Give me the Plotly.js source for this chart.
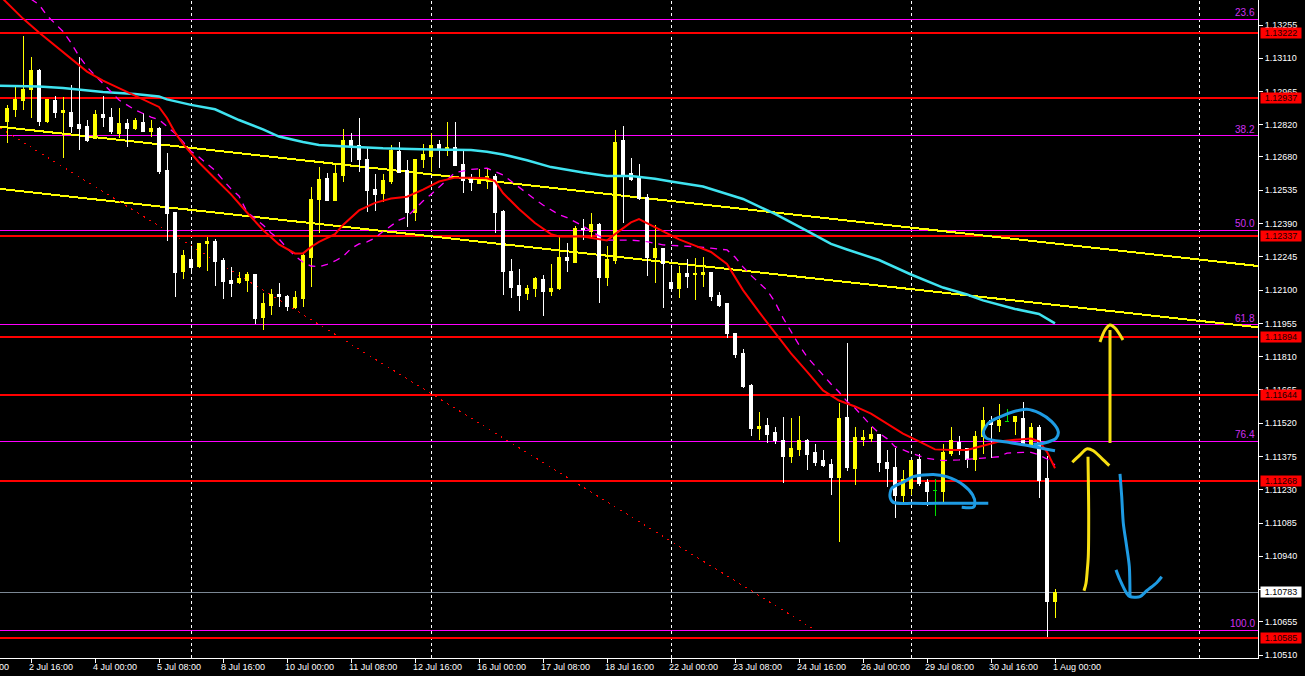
<!DOCTYPE html>
<html>
<head>
<meta charset="utf-8">
<script src="https://cdn.plot.ly/plotly-3.0.1.min.js"></script>
<style>
html,body{margin:0;padding:0;background:#000;overflow:hidden}
#chart{width:1305px;height:676px}
#chart .shapelayer path{shape-rendering:crispEdges}
#chart .boxlayer path{shape-rendering:crispEdges}
</style>
</head>
<body>
<div id="chart"></div>
<script>
// ---------- EURUSD H4 candles ----------
const openP = [1.12834,1.12889,1.12926,1.12972,1.13059,1.12834,1.12924,1.12873,1.12876,1.12820,
1.12811,1.12761,1.12863,1.12854,1.12782,1.12824,1.12802,1.12830,1.12790,1.12804,
1.12621,1.12438,1.12181,1.12232,1.12201,1.12304,1.12311,1.12227,1.12144,1.12134,
1.12144,1.12170,1.11980,1.12035,1.12079,1.12072,1.12024,1.12063,1.12242,1.12493,
1.12588,1.12492,1.12601,1.12754,1.12732,1.12671,1.12540,1.12521,1.12575,1.12706,
1.12623,1.12440,1.12667,1.12680,1.12736,1.12710,1.12723,1.12649,1.12588,1.12563,
1.12579,1.12597,1.12444,1.12183,1.12118,1.12087,1.12105,1.12148,1.12096,1.12105,
1.12240,1.12222,1.12370,1.12357,1.12388,1.12157,1.12231,1.12754,1.12606,1.12593,
1.12505,1.12244,1.12283,1.12131,1.12105,1.12174,1.12166,1.12166,1.12176,1.12075,
1.12040,1.11912,1.11822,1.11684,1.11495,1.11508,1.11478,1.11443,1.11375,1.11404,
1.11443,1.11391,1.11356,1.11338,1.11282,1.11543,1.11321,1.11447,1.11452,1.11469,
1.11351,1.11325,1.11203,1.11234,1.11360,1.11260,1.11225,1.11221,1.11386,1.11438,
1.11408,1.11360,1.11460,1.11534,1.11508,1.11529,1.11526,1.11541,1.11429,1.11503,
1.11280,1.10742];
const highP = [1.12907,1.12990,1.13207,1.13117,1.13064,1.12934,1.12946,1.12940,1.12994,1.13117,
1.12841,1.12885,1.12946,1.12895,1.12894,1.12844,1.12849,1.12870,1.12841,1.12809,
1.12696,1.12438,1.12275,1.12290,1.12307,1.12333,1.12323,1.12242,1.12199,1.12181,
1.12178,1.12170,1.12086,1.12105,1.12130,1.12077,1.12096,1.12261,1.12548,1.12635,
1.12611,1.12645,1.12802,1.12786,1.12852,1.12720,1.12606,1.12606,1.12732,1.12745,
1.12667,1.12671,1.12736,1.12783,1.12754,1.12831,1.12831,1.12706,1.12606,1.12627,
1.12627,1.12606,1.12449,1.12235,1.12192,1.12122,1.12155,1.12166,1.12213,1.12331,
1.12305,1.12379,1.12410,1.12436,1.12392,1.12292,1.12797,1.12815,1.12675,1.12649,
1.12518,1.12383,1.12283,1.12205,1.12205,1.12235,1.12240,1.12246,1.12176,1.12093,
1.12040,1.11915,1.11844,1.11690,1.11569,1.11543,1.11502,1.11547,1.11543,1.11552,
1.11452,1.11430,1.11404,1.11364,1.11608,1.11870,1.11504,1.11491,1.11504,1.11473,
1.11404,1.11412,1.11317,1.11360,1.11385,1.11277,1.11277,1.11430,1.11504,1.11465,
1.11408,1.11485,1.11591,1.11552,1.11603,1.11580,1.11551,1.11612,1.11521,1.11512,
1.11377,1.10799];
const lowP = [1.12743,1.12856,1.12885,1.12849,1.12815,1.12827,1.12849,1.12677,1.12783,1.12711,
1.12745,1.12759,1.12812,1.12779,1.12761,1.12725,1.12798,1.12789,1.12766,1.12605,
1.12316,1.12069,1.12150,1.12173,1.12195,1.12185,1.12120,1.12060,1.12072,1.12125,
1.12091,1.11951,1.11924,1.11990,1.12025,1.12011,1.12019,1.12025,1.12112,1.12348,
1.12490,1.12490,1.12572,1.12659,1.12616,1.12441,1.12446,1.12485,1.12561,1.12609,
1.12376,1.12402,1.12630,1.12616,1.12630,1.12684,1.12645,1.12524,1.12533,1.12562,
1.12540,1.12350,1.12078,1.12065,1.12009,1.12057,1.12071,1.11987,1.12074,1.12100,
1.12179,1.12222,1.12318,1.12327,1.12044,1.12118,1.12213,1.12392,1.12575,1.12492,
1.12161,1.12131,1.12022,1.12105,1.12065,1.12109,1.12057,1.12112,1.12054,1.12025,
1.11890,1.11806,1.11672,1.11466,1.11447,1.11433,1.11430,1.11261,1.11346,1.11377,
1.11317,1.11334,1.11328,1.11208,1.11004,1.11312,1.11251,1.11421,1.11438,1.11308,
1.11244,1.11109,1.11177,1.11208,1.11247,1.11160,1.11116,1.11177,1.11377,1.11382,
1.11325,1.11312,1.11386,1.11369,1.11483,1.11526,1.11468,1.11429,1.11425,1.11195,
1.10590,1.10673];
const closeP = [1.12892,1.12929,1.12976,1.13059,1.12834,1.12929,1.12873,1.12882,1.12815,1.12802,
1.12754,1.12863,1.12852,1.12790,1.12824,1.12802,1.12838,1.12790,1.12804,1.12615,
1.12435,1.12176,1.12249,1.12198,1.12304,1.12311,1.12224,1.12137,1.12128,1.12149,
1.12170,1.11976,1.12040,1.12079,1.12072,1.12028,1.12067,1.12249,1.12493,1.12584,
1.12492,1.12606,1.12754,1.12725,1.12667,1.12533,1.12518,1.12579,1.12707,1.12613,
1.12440,1.12671,1.12693,1.12732,1.12715,1.12723,1.12645,1.12579,1.12568,1.12584,
1.12593,1.12440,1.12183,1.12113,1.12078,1.12109,1.12152,1.12096,1.12109,1.12240,
1.12227,1.12370,1.12362,1.12388,1.12157,1.12235,1.12745,1.12601,1.12584,1.12501,
1.12244,1.12283,1.12218,1.12105,1.12174,1.12161,1.12174,1.12176,1.12072,1.12035,
1.11909,1.11818,1.11680,1.11495,1.11504,1.11473,1.11443,1.11375,1.11408,1.11443,
1.11382,1.11351,1.11334,1.11282,1.11539,1.11325,1.11456,1.11456,1.11469,1.11347,
1.11321,1.11203,1.11273,1.11356,1.11256,1.11221,1.11225,1.11391,1.11443,1.11404,
1.11360,1.11460,1.11534,1.11513,1.11534,1.11529,1.11548,1.11429,1.11503,1.11272,
1.10742,1.10784];

// ---------- indicator lines (x = bar index) ----------
const maRedX = [-1,2,4,5,10,12,14,16,18,19,20,21,22,23,24,26,28,30,32,34,36,37,38,39,41,42,44,46,48,50,52,54,56,58,60,61,62,64,66,68,69,72,74,75,76,78,79,80,82,84,86,88,90,92,94,96,98,100,102,104,106,108,110,112,114,116,118,120,122,124,126,128,129,130,131];
const maRedY = [1.13386,1.13283,1.13222,1.13194,1.13052,1.13013,1.12981,1.12947,1.12917,1.12898,1.12850,1.12787,1.12737,1.12695,1.12656,1.12586,1.12517,1.12438,1.12362,1.12299,1.12260,1.12260,1.12288,1.12310,1.12344,1.12384,1.12447,1.12480,1.12499,1.12507,1.12538,1.12573,1.12590,1.12590,1.12587,1.12575,1.12523,1.12453,1.12392,1.12344,1.12334,1.12333,1.12321,1.12316,1.12344,1.12395,1.12409,1.12392,1.12355,1.12321,1.12294,1.12266,1.12214,1.12100,1.12005,1.11913,1.11824,1.11745,1.11663,1.11619,1.11593,1.11562,1.11519,1.11475,1.11441,1.11406,1.11403,1.11403,1.11422,1.11440,1.11448,1.11453,1.11441,1.11395,1.11324];

const maMagX = [3,4,5,6,7,8,9,10,11,12,14,16,18,19,20,21,22,23,24,25,26,27,28,29,30,31,32,33,34,35,36,37,38,39,40,41,42,43,44,45,46,47,48,49,50,51,52,53,54,55,56,58,60,62,63,64,65,66,67,68,69,70,72,74,75,78,80,82,84,86,88,90,91,92,93,94,95,96,97,98,99,100,101,102,103,104,105,106,107,108,109,110,111,112,113,115,117,119,121,122,124,125,127,128,129,130,131];
const maMagY = [1.13368,1.13344,1.13296,1.13262,1.13227,1.13177,1.13120,1.13072,1.13037,1.12998,1.12928,1.12885,1.12854,1.12843,1.12813,1.12783,1.12747,1.12705,1.12680,1.12652,1.12621,1.12580,1.12541,1.12510,1.12440,1.12413,1.12384,1.12349,1.12323,1.12283,1.12249,1.12222,1.12205,1.12202,1.12212,1.12227,1.12246,1.12281,1.12301,1.12310,1.12327,1.12355,1.12379,1.12405,1.12419,1.12453,1.12488,1.12517,1.12549,1.12580,1.12612,1.12626,1.12631,1.12602,1.12575,1.12545,1.12521,1.12495,1.12471,1.12451,1.12429,1.12416,1.12379,1.12336,1.12318,1.12318,1.12311,1.12297,1.12294,1.12289,1.12283,1.12275,1.12244,1.12201,1.12164,1.12131,1.12100,1.12048,1.11979,1.11920,1.11861,1.11809,1.11769,1.11726,1.11691,1.11656,1.11615,1.11586,1.11547,1.11510,1.11477,1.11453,1.11418,1.11403,1.11390,1.11367,1.11357,1.11360,1.11364,1.11368,1.11374,1.11390,1.11393,1.11393,1.11382,1.11364,1.11338];

const maCyanX = [-1,4,7,12,16,19,20,23,26,29,32,34,37,39,43,47,53,58,60,62,65,68,72,75,78,81,83,87,92,96,100,103,105,109,113,117,120,122,126,129,131];
const maCyanY = [1.12991,1.12987,1.12981,1.12963,1.12954,1.12944,1.12931,1.12907,1.12888,1.12841,1.12800,1.12769,1.12745,1.12732,1.12725,1.12718,1.12713,1.12710,1.12703,1.12691,1.12666,1.12636,1.12612,1.12597,1.12597,1.12585,1.12573,1.12551,1.12497,1.12432,1.12358,1.12301,1.12277,1.12231,1.12168,1.12111,1.12081,1.12055,1.12018,1.11996,1.11955];

// ---------- levels & objects ----------
const hLevels = [1.13222,1.12937,1.12337,1.11894,1.11644,1.11268,1.10585];
const fibLabels = ['23.6','38.2','50.0','61.8','76.4','100.0'];
const fibPrices = [1.13280,1.12772,1.12361,1.11950,1.11441,1.10619];
const lastPrice = 1.10783;
const trendUpperX = [-0.875,156.375], trendUpperY = [1.12812,1.12205];
const trendLowerX = [-0.875,156.375], trendLowerY = [1.12541,1.11938];
const dottedX = [-0.875,101], dottedY = [1.12806,1.10619];
const separators = [23,53,83,113,149];

// ---------- axes ----------
const yTicks = [1.13255,1.13110,1.12965,1.12820,1.12680,1.12535,1.12390,1.12245,1.12100,1.11955,1.11810,1.11665,1.11520,1.11375,1.11230,1.11085,1.10940,1.10795,1.10655,1.10510];
const xTickIdx = [-5,3,11,19,27,35,43,51,59,67,75,83,91,99,107,115,123,131];
const xTickText = ['1 Jul 08:00','2 Jul 16:00','4 Jul 00:00','5 Jul 08:00','8 Jul 16:00','10 Jul 00:00','11 Jul 08:00','12 Jul 16:00','16 Jul 00:00','17 Jul 08:00','18 Jul 16:00','22 Jul 00:00','23 Jul 08:00','24 Jul 16:00','26 Jul 00:00','29 Jul 08:00','30 Jul 16:00','1 Aug 00:00'];
const xRange = [-0.875,156.375];
const yRange = [1.10497,1.13364];

// ---------- hand drawings ----------
const yArrowTallX = [137.875,137.875], yArrowTallY = [1.11434,1.11926];
const yArrowTallHeadX = [136.625,137.25,137.875,138.5,139.5], yArrowTallHeadY = [1.11874,1.11926,1.11948,1.11935,1.11883];
const yArrowShortX = [134.625,134.875,135.04,135.16,135.21,135.125], yArrowShortY = [1.10790,1.10823,1.10881,1.10938,1.11128,1.11374];
const yArrowShortHeadX = [133.16,134.125,134.96,135.79,136.84,137.79], yArrowShortHeadY = [1.11350,1.11382,1.11408,1.11400,1.11367,1.11335];
const bArrowX = [139.125,139.34,139.54,139.96,140.29,140.375], bArrowY = [1.11299,1.11200,1.11084,1.10982,1.10895,1.10767];
const bArrowHeadX = [138.625,139.125,139.96,140.375,141,141.625,142.46,143.71,144.34], bArrowHeadY = [1.10881,1.10837,1.10779,1.10764,1.10762,1.10764,1.10790,1.10825,1.10851];
const bLoop1X = [119.34,120.79,121.0,120.71,119.54,117.46,115.79,113.29,112.125,110.59,110.375,110.79,113.29,117.46,122.66];
const bLoop1Y = [1.11154,1.11154,1.11171,1.11207,1.11251,1.11287,1.11297,1.11287,1.11265,1.11236,1.11200,1.11175,1.11171,1.11171,1.11171];
const bLoop2X = [131,127.875,124.96,122.46,122.04,122.66,124.125,125.79,127.46,129.125,130.59,131.41,131.125,129.54,128.29];
const bLoop2Y = [1.11400,1.11421,1.11438,1.11454,1.11479,1.11520,1.11548,1.11570,1.11581,1.11563,1.11527,1.11483,1.11454,1.11433,1.11428];

// ---------- build ----------
const FONT = 'Liberation Sans, Arial, sans-serif';
const pick = (a, ids) => ids.map(i => a[i]);
const upI = [], dnI = [], djI = [];
openP.forEach((o, i) => {
  if (closeP[i] > o) upI.push(i); else if (closeP[i] < o) dnI.push(i); else djI.push(i);
});
function candle(ids, col) {
  return {
    type: 'candlestick', x: ids,
    open: pick(openP, ids), high: pick(highP, ids), low: pick(lowP, ids), close: pick(closeP, ids),
    increasing: {line: {color: col, width: 1}, fillcolor: col},
    decreasing: {line: {color: col, width: 1}, fillcolor: col},
    whiskerwidth: 0, hoverinfo: 'skip', showlegend: false
  };
}
function line(x, y, col, w, dash, shape) {
  return {type: 'scatter', mode: 'lines', x: x, y: y, hoverinfo: 'skip', showlegend: false,
    line: {color: col, width: w, dash: dash || 'solid', shape: shape || 'linear', smoothing: 0.8}};
}
const YEL = '#f7df12', BLU = '#1e9be3';
const traces = [
  candle(upI, '#ffff00'),
  candle(dnI, '#ffffff'),
  candle(djI, '#00e000'),
  line(maCyanX, maCyanY, '#3fe3f0', 2.5),
  line(maMagX, maMagY, '#ff00ff', 1.3, '7px,6px'),
  line(maRedX, maRedY, '#ff0000', 2),
  line(yArrowTallX, yArrowTallY, YEL, 3),
  line(yArrowTallHeadX, yArrowTallHeadY, YEL, 3, 'solid', 'spline'),
  line(yArrowShortX, yArrowShortY, YEL, 3, 'solid', 'spline'),
  line(yArrowShortHeadX, yArrowShortHeadY, YEL, 3, 'solid', 'spline'),
  line(bArrowX, bArrowY, BLU, 3, 'solid', 'spline'),
  line(bArrowHeadX, bArrowHeadY, BLU, 3, 'solid', 'spline'),
  line(bLoop1X, bLoop1Y, BLU, 3, 'solid', 'spline'),
  line(bLoop2X, bLoop2Y, BLU, 3, 'solid', 'spline')
];

const shapes = [];
separators.forEach(s => shapes.push({type: 'line', layer: 'below', xref: 'x', x0: s, x1: s, yref: 'paper', y0: 0, y1: 1,
  line: {color: '#ffffff', width: 1, dash: '3px,3px'}}));
fibPrices.forEach(p => shapes.push({type: 'line', layer: 'below', xref: 'paper', x0: 0, x1: 1, yref: 'y', y0: p, y1: p,
  line: {color: '#ff00ff', width: 1}}));
shapes.push({type: 'line', layer: 'below', xref: 'paper', x0: 0, x1: 1, yref: 'y', y0: lastPrice, y1: lastPrice,
  line: {color: '#7b8794', width: 1}});
hLevels.forEach(p => shapes.push({type: 'line', layer: 'below', xref: 'paper', x0: 0, x1: 1, yref: 'y', y0: p, y1: p,
  line: {color: '#ff0000', width: 2}}));
shapes.push({type: 'line', layer: 'below', xref: 'x', yref: 'y', x0: trendUpperX[0], x1: trendUpperX[1], y0: trendUpperY[0], y1: trendUpperY[1],
  line: {color: '#ffff00', width: 2}});
shapes.push({type: 'line', layer: 'below', xref: 'x', yref: 'y', x0: trendLowerX[0], x1: trendLowerX[1], y0: trendLowerY[0], y1: trendLowerY[1],
  line: {color: '#ffff00', width: 2}});
shapes.push({type: 'line', layer: 'below', xref: 'x', yref: 'y', x0: dottedX[0], x1: dottedX[1], y0: dottedY[0], y1: dottedY[1],
  line: {color: '#ff0000', width: 1, dash: '2px,5px'}});

const annotations = [];
hLevels.forEach(p => annotations.push({xref: 'paper', x: 1, xanchor: 'left', xshift: 2, yref: 'y', y: p, yanchor: 'middle',
  text: p.toFixed(5), showarrow: false, bgcolor: '#ff0000', width: 40, height: 10, borderpad: 0, align: 'center',
  font: {family: FONT, size: 9, color: '#200000'}}));
annotations.push({xref: 'paper', x: 1, xanchor: 'left', xshift: 2, yref: 'y', y: lastPrice, yanchor: 'middle',
  text: lastPrice.toFixed(5), showarrow: false, bgcolor: '#ffffff', width: 40, height: 10, borderpad: 0, align: 'center',
  font: {family: FONT, size: 9, color: '#000000'}});
fibPrices.forEach((p, i) => annotations.push({xref: 'paper', x: 1, xanchor: 'right', xshift: -2, yref: 'y', y: p, yanchor: 'bottom',
  text: fibLabels[i], showarrow: false, borderpad: 0, font: {family: FONT, size: 10, color: '#d030f0'}}));
xTickIdx.forEach((v, i) => annotations.push({xref: 'paper', x: (v - xRange[0]) / (xRange[1] - xRange[0]), xanchor: 'left', xshift: -3,
  yref: 'paper', y: 0, yanchor: 'top', yshift: -3, text: xTickText[i], showarrow: false, borderpad: 0,
  font: {family: FONT, size: 9, color: '#ffffff'}}));

const layout = {
  width: 1305, height: 676,
  paper_bgcolor: '#000000', plot_bgcolor: '#000000',
  margin: {l: 0, r: 47, t: 0, b: 18, pad: 0},
  showlegend: false, hovermode: false,
  font: {family: FONT, size: 9, color: '#ffffff'},
  xaxis: {range: xRange, showgrid: false, zeroline: false, showline: true, linecolor: '#ffffff', linewidth: 1,
    ticks: 'outside', ticklen: 4, tickcolor: '#ffffff', tickmode: 'array', tickvals: xTickIdx, showticklabels: false,
    rangeslider: {visible: false}, fixedrange: true},
  yaxis: {range: yRange, side: 'right', showgrid: false, zeroline: false, showline: true, linecolor: '#ffffff', linewidth: 1,
    ticks: 'outside', ticklen: 4, tickcolor: '#ffffff', tickmode: 'array', tickvals: yTicks, ticktext: yTicks.map(v => v.toFixed(5)),
    tickfont: {family: FONT, size: 9, color: '#ffffff'}, fixedrange: true},
  shapes: shapes,
  annotations: annotations
};
Plotly.newPlot('chart', traces, layout, {staticPlot: true, displayModeBar: false});
</script>
</body>
</html>
